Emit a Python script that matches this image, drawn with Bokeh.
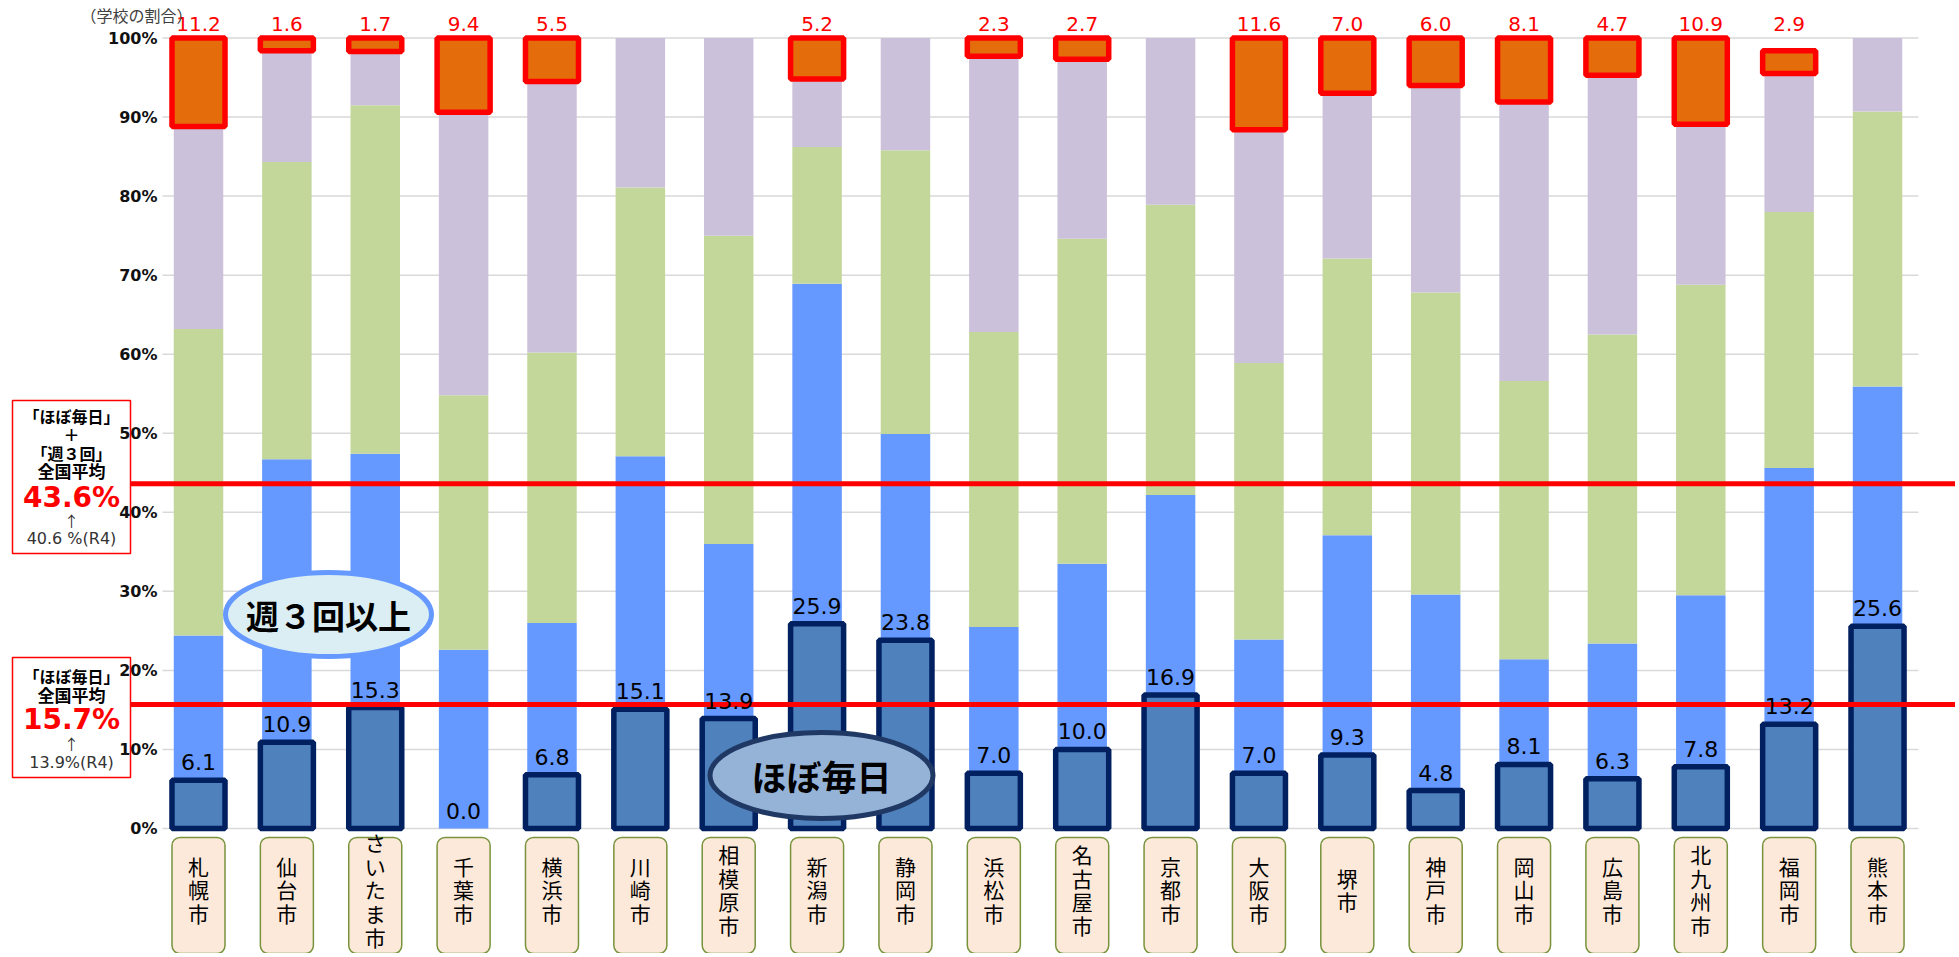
from bokeh.plotting import figure
from bokeh.models import ColumnDataSource, Range1d, FixedTicker, CDSView, BooleanFilter
from bokeh.core.properties import value
from bokeh.transform import stack
from bokeh.embed import file_html
from bokeh.resources import INLINE

# ---------------- data ----------------
cities = ["札幌市", "仙台市", "さいたま市", "千葉市", "横浜市", "川崎市", "相模原市", "新潟市",
          "静岡市", "浜松市", "名古屋市", "京都市", "大阪市", "堺市", "神戸市", "岡山市",
          "広島市", "北九州市", "福岡市", "熊本市"]
seg_daily = [6.1, 10.9, 15.3, 0.0, 6.8, 15.1, 13.9, 25.9, 23.8, 7.0,
             10.0, 16.9, 7.0, 9.3, 4.8, 8.1, 6.3, 7.8, 13.2, 25.6]
seg_3days = [18.3, 35.8, 32.1, 22.6, 19.2, 32.0, 22.1, 43.0, 26.1, 18.5,
             23.5, 25.3, 16.9, 27.8, 24.8, 13.3, 17.1, 21.7, 32.4, 30.3]
seg_1_2days = [38.8, 37.6, 44.1, 32.2, 34.2, 34.0, 39.0, 17.3, 35.9, 37.3,
               41.1, 36.7, 35.0, 35.0, 38.2, 35.2, 39.1, 39.3, 32.4, 34.8]
seg_monthly = [25.6, 14.1, 6.8, 35.8, 34.3, 18.9, 25.0, 8.6, 14.2, 34.9,
               22.7, 21.1, 29.5, 20.9, 26.2, 35.3, 32.8, 20.3, 17.5, 9.3]
seg_none = [11.2, 1.6, 1.7, 9.4, 5.5, 0.0, 0.0, 5.2, 0.0, 2.3,
            2.7, 0.0, 11.6, 7.0, 6.0, 8.1, 4.7, 10.9, 2.9, 0.0]
y_ticks = [0, 10, 20, 30, 40, 50, 60, 70, 80, 90, 100]
avg_daily = 15.7
avg_daily_prev = 13.9
avg_3plus = 43.6
avg_3plus_prev = 40.6

# ---------------- geometry helpers ----------------
W, H = 1955, 953
SX, CX0 = 88.37, 198.0     # px per category, page x of first category centre
SY, ZERO_PX = 7.905, 828.0  # px per percent, page y of 0%
X0, X1 = (0 - CX0) / SX, (W - CX0) / SX
Y1, Y0 = ZERO_PX / SY, (ZERO_PX - H) / SY


def dx(px):
    return X0 + px / W * (X1 - X0)


def dy(py):
    return Y1 - py / H * (Y1 - Y0)


BAR_W = 0.56
BIG_W = 0.6
JP = value("Noto Sans CJK JP")
NUM = value("DejaVu Sans")

xs = list(range(len(cities)))
src = ColumnDataSource(dict(
    x=xs, city=cities,
    daily=seg_daily, d3=seg_3days, d12=seg_1_2days, mon=seg_monthly, none=seg_none,
    daily_txt=[f"{v:.1f}" for v in seg_daily],
    none_txt=[f"{v:.1f}" for v in seg_none],
    vlabel=["\n".join(c) for c in cities],
))
view_daily = CDSView(filter=BooleanFilter([v > 0 for v in seg_daily]))
view_none = CDSView(filter=BooleanFilter([v > 0 for v in seg_none]))

p = figure(width=W, height=H, x_range=Range1d(X0, X1), y_range=Range1d(Y0, Y1),
           output_backend="svg", toolbar_location=None, min_border=0,
           outline_line_color=None, background_fill_color="white", border_fill_color="white")
p.xaxis.visible = False
p.grid.visible = False
ax = p.yaxis[0]
ax.fixed_location = dx(163)
ax.ticker = FixedTicker(ticks=y_ticks)
ax.major_label_overrides = {t: f"{t}%" for t in y_ticks}
ax.axis_line_color = None
ax.major_tick_line_color = None
ax.minor_tick_line_color = None
ax.major_label_text_font = "DejaVu Sans"
ax.major_label_text_font_style = "bold"
ax.major_label_text_font_size = "16px"
ax.major_label_text_color = "#111111"
ax.major_label_standoff = 0

# gridlines
p.segment(x0=dx(162), x1=dx(1918), y0=y_ticks, y1=y_ticks, line_color="#D9D9D9", line_width=1.5)

# stacked light segments
p.vbar(x="x", width=BAR_W, bottom=stack("daily"), top=stack("daily", "d3"), source=src,
       fill_color="#6699FF", line_color=None)
p.vbar(x="x", width=BAR_W, bottom=stack("daily", "d3"), top=stack("daily", "d3", "d12"), source=src,
       fill_color="#C4D79B", line_color=None)
p.vbar(x="x", width=BAR_W, bottom=stack("daily", "d3", "d12"), top=stack("daily", "d3", "d12", "mon"),
       source=src, fill_color="#CCC1DA", line_color=None)
# daily (dark, bordered)
p.vbar(x="x", width=BIG_W, bottom=0, top="daily", source=src, view=view_daily,
       fill_color="#4F81BD", line_color="#002060", line_width=5.5)
# none (orange, red bordered)
p.vbar(x="x", width=BIG_W, bottom=stack("daily", "d3", "d12", "mon"),
       top=stack("daily", "d3", "d12", "mon", "none"), source=src, view=view_none,
       fill_color="#E46C0A", line_color="#FF0000", line_width=5.5)

# national average lines
p.segment(x0=dx(130), x1=X1, y0=[avg_3plus, avg_daily], y1=[avg_3plus, avg_daily],
          line_color="#FF0000", line_width=5)

# value labels
p.text(x="x", y="daily", text="daily_txt", source=src, text_align="center", text_baseline="bottom",
       y_offset=-10, text_font=NUM, text_font_size="22px", text_color="#000000")
p.text(x="x", y=100, text="none_txt", source=src, view=view_none, text_align="center",
       text_baseline="bottom", y_offset=-7, text_font=NUM, text_font_size="20px", text_color="#FF0000")

# unit label
p.text(x=[dx(80)], y=[dy(14)], text=["（学校の割合）"], text_align="left", text_baseline="middle",
       text_font=JP, text_font_size="16px", text_color="#404040")

# ellipses
p.ellipse(x=[dx(328)], y=[dy(614)], width=206, height=84, width_units="screen", height_units="screen",
          fill_color="#DAEEF3", line_color="#6699FF", line_width=5)
p.text(x=[dx(328)], y=[dy(614)], text=["週３回以上"], text_align="center", text_baseline="middle",
       text_font=JP, text_font_style="bold", text_font_size="33px", text_color="#000000")
p.ellipse(x=[dx(821)], y=[dy(775)], width=223, height=86, width_units="screen", height_units="screen",
          fill_color="#95B3D7", line_color="#203864", line_width=5)
p.text(x=[dx(821)], y=[dy(775)], text=["ほぼ毎日"], text_align="center", text_baseline="middle",
       text_font=JP, text_font_style="bold", text_font_size="35px", text_color="#000000")

# left info boxes
p.quad(left=[dx(12), dx(12)], right=[dx(130), dx(130)], top=[dy(400), dy(657)],
       bottom=[dy(553), dy(777)], fill_color="white", line_color="#FF0000", line_width=1.5)
cx = dx(71)


def box_text(txt, py, size, font=JP, style="bold", color="#000000"):
    p.text(x=[cx], y=[dy(py)], text=[txt], text_align="center", text_baseline="middle",
           text_font=font, text_font_style=style, text_font_size=size, text_color=color)


box_text("「ほぼ毎日」", 415, "16px")
box_text("＋", 433, "16px")
box_text("「週３回」", 452, "16px")
box_text("全国平均", 470, "17px")
box_text(f"{avg_3plus}%", 497, "28px", font=NUM, color="#FF0000")
box_text("↑", 520, "15px", style="normal", color="#333333")
box_text(f"{avg_3plus_prev} %(R4)", 538, "16px", font=NUM, style="normal", color="#333333")

box_text("「ほぼ毎日」", 675, "16px")
box_text("全国平均", 694, "17px")
box_text(f"{avg_daily}%", 719, "28px", font=NUM, color="#FF0000")
box_text("↑", 743, "15px", style="normal", color="#333333")
box_text(f"{avg_daily_prev}%(R4)", 762, "16px", font=NUM, style="normal", color="#333333")

# category label boxes (vertical text)
p.vbar(x="x", width=0.6, top=dy(837), bottom=dy(955), source=src, border_radius=8,
       fill_color="#FDE9D9", line_color="#77933C", line_width=1.5)
p.text(x="x", y=dy(889), text="vlabel", source=src, text_align="center", text_baseline="middle",
       text_font=JP, text_font_size="21px", text_line_height=0.79, text_color="#000000")

open("out.html", "w").write(file_html(p, INLINE))
